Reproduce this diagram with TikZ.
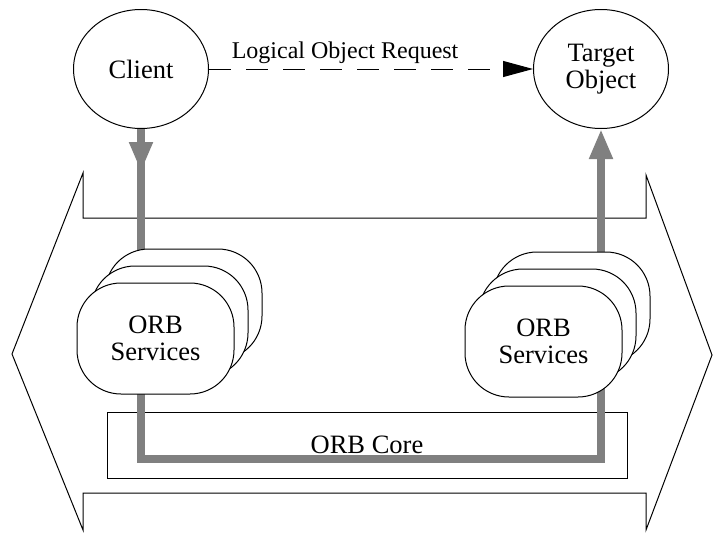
\documentclass[tikz,border=0pt]{standalone}
\usepackage{fontspec}
\setmainfont{Liberation Serif}
\usetikzlibrary{positioning,shapes.geometric,arrows.meta}
\definecolor{pipegray}{RGB}{128,128,128}

\begin{document}
\begin{tikzpicture}[x=1pt, y=-1pt, line width=1pt,
  every node/.style={font=\fontsize{26.5}{27}\selectfont, align=center},
  actor/.style={ellipse, draw, minimum width=135pt, minimum height=119pt, inner sep=0pt},
  svc/.style={draw, fill=white, rounded corners=44pt, minimum width=157pt, minimum height=111pt},
  pipe/.style={draw=pipegray, line width=8pt},
  request/.style={dashed, dash pattern=on 22pt off 15pt, -{Triangle[length=30pt, width=16pt]}}]

% A sketch of the ORB: client, target and the services on the ORB core.

\useasboundingbox (0,0) rectangle (713,533);

\node[actor] (client) at (141,69) {Client};
\node[actor] (target) at (601,69) {Target\\Object};

\draw[request] (client) -- node[above=1pt, pos=0.42, font=\fontsize{24}{26}\selectfont] (req) {Logical Object Request} (target);

% the double arrow round the ORB
\draw (83,173) -- (83,218) -- (646,218) -- (646,175) -- (712,355) -- (646,530)
  -- (646,493) -- (83,493) -- (83,530) -- (12,354) -- cycle;

\node[draw, minimum width=520pt, minimum height=66pt] (core) at (367,445) {ORB Core};

\coordinate (lsvc) at (155.5,338.5);
\coordinate (rsvc) at (543.5,341.5);

\draw[pipe] (client.south) -- (client.south |- 0,250);
\draw[pipe, -{Triangle[length=30pt, width=22pt]}] (client.south) -- ++(0,43);
\draw[pipe, -{Triangle[length=30pt, width=22pt]}] (target.south |- 0,253) -- (target.south);
\draw[pipe] (client.south |- lsvc) -- (client.south |- 0,459) -| (target.south |- rsvc);

\node[svc] (lback) at (183.5,304.5) {};
\node[svc] (lmid) at (169.5,321.5) {};
\node[svc] (lfront) at (lsvc) {ORB\\Services};

\node[svc] (rback) at (571.5,307.5) {};
\node[svc] (rmid) at (557.5,324.5) {};
\node[svc] (rfront) at (rsvc) {ORB\\Services};

\end{tikzpicture}
\end{document}
